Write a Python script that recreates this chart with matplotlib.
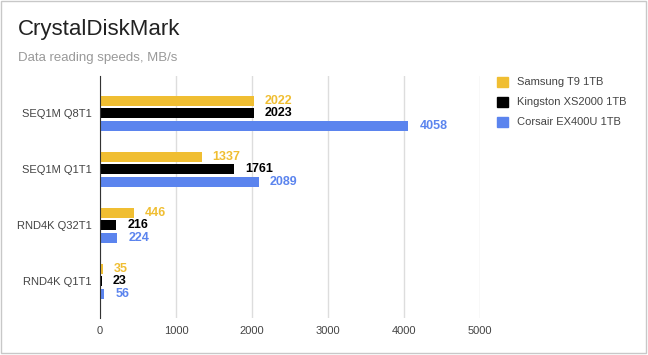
import numpy as np
import matplotlib.pyplot as plt
from matplotlib.patches import Rectangle

plt.rcParams['font.family'] = ['Liberation Sans', 'DejaVu Sans']

# Datos
categories = ['SEQ1M Q8T1', 'SEQ1M Q1T1', 'RND4K Q32T1', 'RND4K Q1T1']
series_names = ['Samsung T9 1TB', 'Kingston XS2000 1TB', 'Corsair EX400U 1TB']
samsung = [2022, 1337, 446, 35]
kingston = [2023, 1761, 216, 23]
corsair = [4058, 2089, 224, 56]
x_ticks = [0, 1000, 2000, 3000, 4000, 5000]

colors = ['#F0BE32', '#000000', '#5B84EE']
offsets = [-0.22, 0.0, 0.23]
bar_h = 0.18

fig = plt.figure(figsize=(6.48, 3.55), dpi=100)
ax = fig.add_axes([100 / 648, 1 - 318 / 355, 380 / 648, 242 / 355])

y = np.arange(len(categories))
for vals, col, off, name in zip([samsung, kingston, corsair], colors, offsets, series_names):
    ax.barh(y + off, vals, height=bar_h, color=col, label=name, zorder=3)
    for yi, v in zip(y, vals):
        ax.annotate(str(v), (v, yi + off), xytext=(8, 0), textcoords='offset points',
                    va='center', ha='left', fontsize=9, fontweight='bold', color=col)

ax.set_xlim(0, 5000)
ax.set_ylim(3.66, -0.66)
ax.set_xticks(x_ticks)
ax.set_yticks(y)
ax.set_yticklabels(categories)
ax.tick_params(length=0, labelsize=8, labelcolor='#444444')
ax.tick_params(axis='x', pad=6)
ax.tick_params(axis='y', pad=6)
ax.grid(axis='x', color='#dddddd', linewidth=1, zorder=0)
for s in ['top', 'right', 'bottom']:
    ax.spines[s].set_visible(False)
ax.spines['left'].set_color('#333333')
ax.spines['left'].set_zorder(4)

# titulo
fig.text(18 / 648, 1 - 35 / 355, 'CrystalDiskMark', fontsize=16, color='#222222', va='baseline')
fig.text(18 / 648, 1 - 58 / 355, 'Data reading speeds, MB/s', fontsize=9.5, color='#999999', va='center')

# leyenda
for i, (name, col) in enumerate(zip(series_names, colors)):
    yy = 1 - (82 + 20 * i) / 355
    fig.patches.append(Rectangle((497 / 648, yy - 5 / 355), 11 / 648, 10 / 355,
                                 transform=fig.transFigure, color=col, figure=fig))
    fig.text(517 / 648, yy, name, fontsize=8, color='#444444', va='center')

# borde
fig.patches.append(Rectangle((0.5 / 648, 2 / 355), 645 / 648, 352 / 355, transform=fig.transFigure,
                             fill=False, edgecolor='#c8c8c8', linewidth=1, figure=fig))

fig.savefig('out.png', dpi=100)
